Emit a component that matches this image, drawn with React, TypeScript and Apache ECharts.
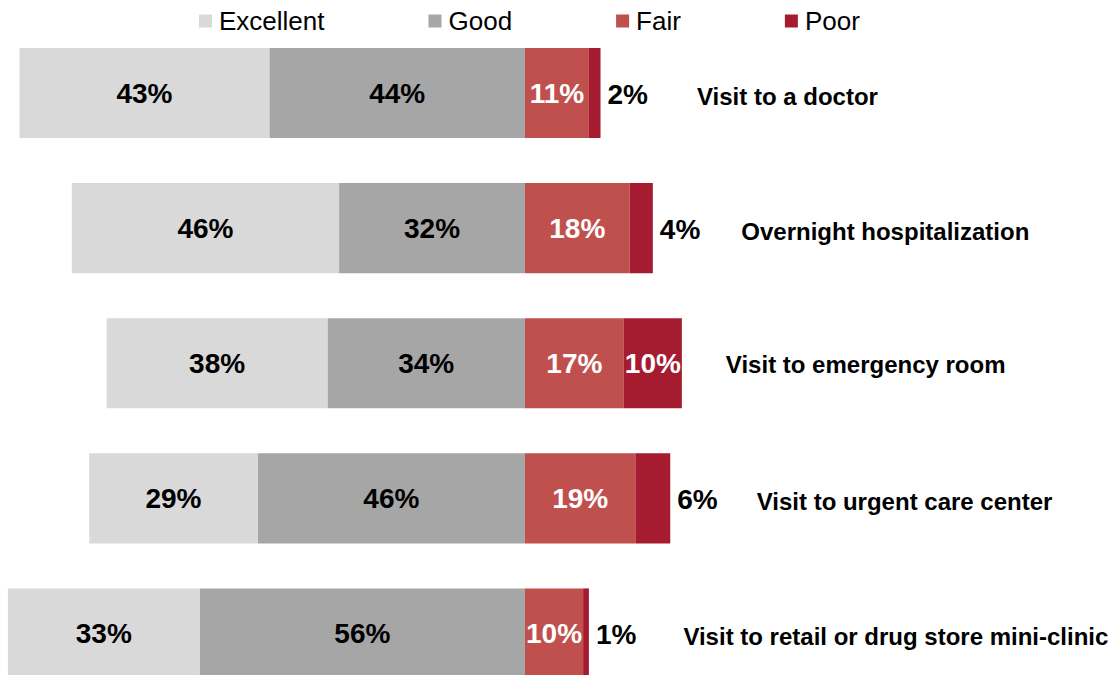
import React, { useEffect, useRef } from "react";
import * as echarts from "echarts";

const categories = [
  "Visit to a doctor",
  "Overnight hospitalization",
  "Visit to emergency room",
  "Visit to urgent care center",
  "Visit to retail or drug store mini-clinic",
];
const excellent = [43, 46, 38, 29, 33];
const good = [44, 32, 34, 46, 56];
const fair = [11, 18, 17, 19, 10];
const poor = [2, 4, 10, 6, 1];
// whether the Poor value fits inside its bar
const poorInside = [false, false, true, false, false];
// horizontal gap (px) between the Poor label and the category name
const nameGap = [49, 41, 44, 39, 47];

const FONT = "'Liberation Sans', Arial, Helvetica, sans-serif";
const COLORS = {
  Excellent: "#D9D9D9",
  Good: "#A6A6A6",
  Fair: "#C0504D",
  Poor: "#A51C30",
};

export default function App() {
  const ref = useRef<HTMLDivElement>(null);

  useEffect(() => {
    if (!ref.current) return;
    const chart = echarts.init(ref.current, null, { renderer: "svg" });

    const pctLabel = (color: string) => ({
      show: true,
      position: "inside" as const,
      color,
      fontFamily: FONT,
      fontWeight: "bold" as const,
      fontSize: 28,
      formatter: (p: any) => Math.abs(p.value) + "%",
    });

    const option: any = {
      animation: false,
      backgroundColor: "#ffffff",
      textStyle: { fontFamily: FONT },
      legend: {
        data: ["Excellent", "Good", "Fair", "Poor"],
        left: 194,
        top: 3,
        icon: "rect",
        itemWidth: 13,
        itemHeight: 13,
        itemGap: 104,
        selectedMode: false,
        textStyle: {
          fontFamily: FONT,
          fontSize: 26,
          color: "#000",
          padding: [0, 0, 0, 2],
        },
      },
      grid: { left: 2.1, top: 25.5, right: 11, bottom: 0, outerBoundsMode: "none" },
      xAxis: {
        type: "value",
        min: -90,
        max: 100,
        show: false,
      },
      yAxis: {
        type: "category",
        data: categories,
        inverse: true,
        show: false,
      },
      series: [
        {
          name: "Good",
          type: "bar",
          stack: "s",
          barCategoryGap: "33.33%",
          data: good.map((v) => -v),
          itemStyle: { color: COLORS.Good },
          label: pctLabel("#000"),
        },
        {
          name: "Excellent",
          type: "bar",
          stack: "s",
          data: excellent.map((v) => -v),
          itemStyle: { color: COLORS.Excellent },
          label: pctLabel("#000"),
        },
        {
          name: "Fair",
          type: "bar",
          stack: "s",
          data: fair,
          itemStyle: { color: COLORS.Fair },
          label: pctLabel("#fff"),
        },
        {
          name: "Poor",
          type: "bar",
          stack: "s",
          data: poor.map((v, i) => ({
            value: v,
            label: { show: poorInside[i] },
          })),
          itemStyle: { color: COLORS.Poor },
          label: pctLabel("#fff"),
        },
        {
          name: "labels",
          type: "bar",
          stack: "s",
          silent: true,
          data: categories.map((c, i) => ({
            value: 0,
            label: {
              show: true,
              position: "right",
              distance: poorInside[i] ? nameGap[i] : 7,
              formatter: poorInside[i]
                ? "{c|" + c + "}"
                : "{v|" + poor[i] + "%}{c|" + c + "}",
              rich: {
                v: {
                  fontFamily: FONT,
                  fontWeight: "bold",
                  fontSize: 28,
                  lineHeight: 30,
                  color: "#000",
                  verticalAlign: "bottom",
                },
                c: {
                  fontFamily: FONT,
                  fontWeight: "bold",
                  fontSize: 24,
                  lineHeight: 26,
                  color: "#000",
                  verticalAlign: "bottom",
                  padding: [0, 0, 0, poorInside[i] ? 0 : nameGap[i]],
                },
              },
            },
          })),
          itemStyle: { color: "transparent" },
        },
      ],
    };

    chart.setOption(option);
    return () => chart.dispose();
  }, []);

  return (
    <div
      style={{
        position: "absolute",
        left: 0,
        top: 0,
        width: 1117,
        height: 675,
        overflow: "hidden",
      }}
    >
      <div ref={ref} style={{ width: 1117, height: 701 }} />
    </div>
  );
}
